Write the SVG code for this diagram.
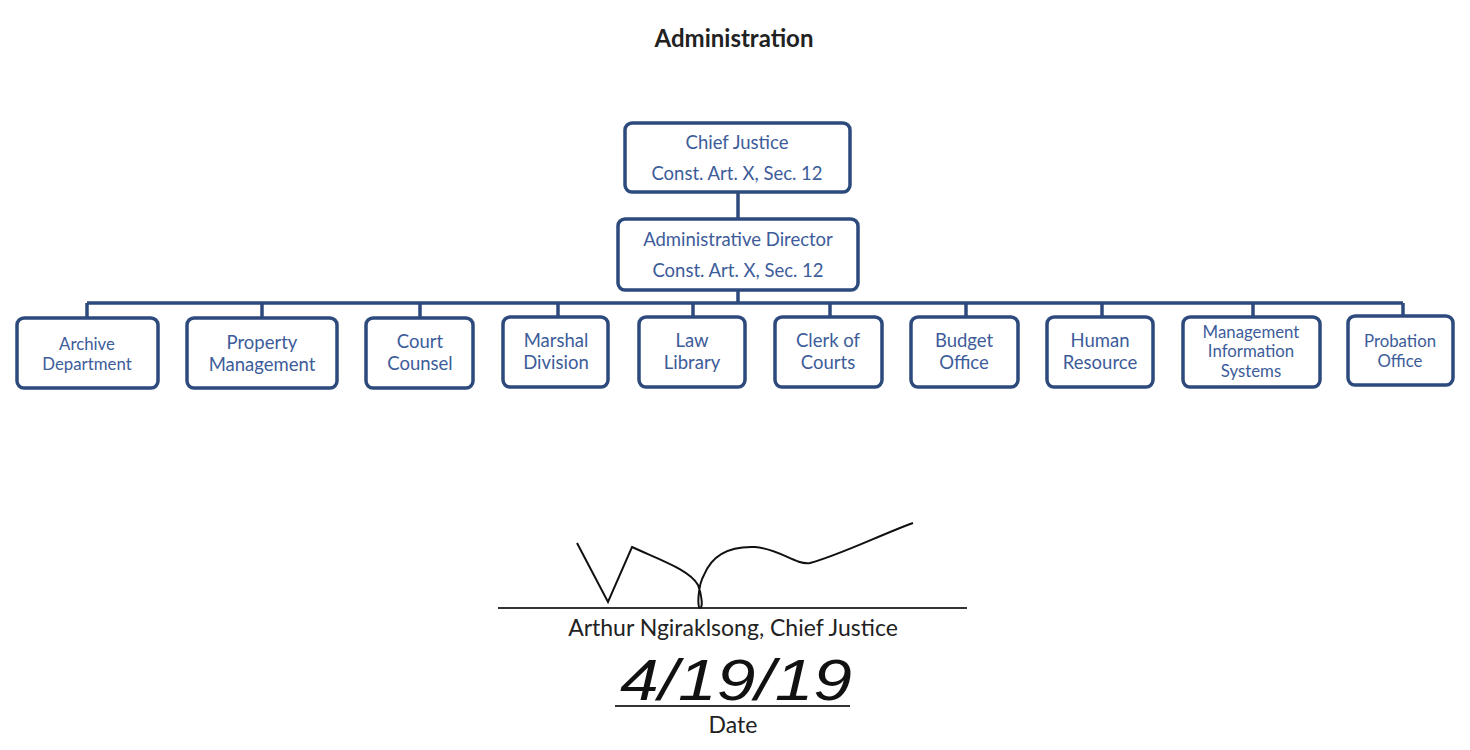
<svg xmlns="http://www.w3.org/2000/svg" width="1470" height="750" viewBox="0 0 1470 750">
<style>
.box{fill:#fff;stroke:#2c4a7c;stroke-width:3.5}
.lbl{font-family:Lato,"Open Sans",sans-serif;fill:#3d5c9a;text-anchor:middle;dominant-baseline:central}
.f16{font-size:18.5px}
.f14{font-size:16.8px}
.conn{stroke:#2c4a7c;stroke-width:3.5;fill:none}
.blk{font-family:Lato,"Open Sans",sans-serif;fill:#222;text-anchor:middle;dominant-baseline:central}
</style>
<rect width="1470" height="750" fill="#fff"/>
<text class="blk" x="734" y="37" font-size="24" font-weight="bold">Administration</text>
<g id="connectors">
<line class="conn" x1="738" y1="192" x2="738" y2="219"/>
<line class="conn" x1="738" y1="290" x2="738" y2="303"/>
<line class="conn" x1="87" y1="303" x2="1403" y2="303"/>
<line class="conn" x1="87" y1="303" x2="87" y2="318"/>
<line class="conn" x1="262" y1="303" x2="262" y2="318"/>
<line class="conn" x1="420" y1="303" x2="420" y2="318"/>
<line class="conn" x1="558" y1="303" x2="558" y2="317"/>
<line class="conn" x1="693" y1="303" x2="693" y2="317"/>
<line class="conn" x1="830" y1="303" x2="830" y2="317"/>
<line class="conn" x1="966" y1="303" x2="966" y2="317"/>
<line class="conn" x1="1102" y1="303" x2="1102" y2="317"/>
<line class="conn" x1="1253" y1="303" x2="1253" y2="317"/>
<line class="conn" x1="1403" y1="303" x2="1403" y2="316"/>
</g>
<g id="chief-justice">
<rect class="box" x="625" y="123" width="225" height="69" rx="7"/>
<text class="lbl f16" x="737" y="142">Chief Justice</text>
<text class="lbl f16" x="737" y="173">Const. Art. X, Sec. 12</text>
</g>
<g id="admin-director">
<rect class="box" x="618" y="219" width="240" height="71" rx="7"/>
<text class="lbl f16" x="738" y="239">Administrative Director</text>
<text class="lbl f16" x="738" y="270">Const. Art. X, Sec. 12</text>
</g>
<g id="archive">
<rect class="box" x="17" y="318" width="141" height="70" rx="7"/>
<text class="lbl f14" x="87" y="343">Archive</text>
<text class="lbl f14" x="87" y="363">Department</text>
</g>
<g id="property">
<rect class="box" x="187" y="318" width="150" height="70" rx="7"/>
<text class="lbl f16" x="262" y="342">Property</text>
<text class="lbl f16" x="262" y="364">Management</text>
</g>
<g id="court-counsel">
<rect class="box" x="366" y="318" width="107" height="70" rx="7"/>
<text class="lbl f16" x="420" y="341">Court</text>
<text class="lbl f16" x="420" y="363">Counsel</text>
</g>
<g id="marshal">
<rect class="box" x="503" y="317" width="105" height="70" rx="7"/>
<text class="lbl f16" x="556" y="340">Marshal</text>
<text class="lbl f16" x="556" y="362">Division</text>
</g>
<g id="law-library">
<rect class="box" x="639" y="317" width="106" height="70" rx="7"/>
<text class="lbl f16" x="692" y="340">Law</text>
<text class="lbl f16" x="692" y="362">Library</text>
</g>
<g id="clerk">
<rect class="box" x="775" y="317" width="107" height="70" rx="7"/>
<text class="lbl f16" x="828" y="340">Clerk of</text>
<text class="lbl f16" x="828" y="362">Courts</text>
</g>
<g id="budget">
<rect class="box" x="911" y="317" width="107" height="70" rx="7"/>
<text class="lbl f16" x="964" y="340">Budget</text>
<text class="lbl f16" x="964" y="362">Office</text>
</g>
<g id="human-resource">
<rect class="box" x="1047" y="317" width="106" height="70" rx="7"/>
<text class="lbl f16" x="1100" y="340">Human</text>
<text class="lbl f16" x="1100" y="362">Resource</text>
</g>
<g id="mis">
<rect class="box" x="1183" y="317" width="137" height="70" rx="7"/>
<text class="lbl f14" x="1251" y="331">Management</text>
<text class="lbl f14" x="1251" y="350">Information</text>
<text class="lbl f14" x="1251" y="370">Systems</text>
</g>
<g id="probation">
<rect class="box" x="1348" y="316" width="105" height="69" rx="7"/>
<text class="lbl f14" x="1400" y="340">Probation</text>
<text class="lbl f14" x="1400" y="360">Office</text>
</g>
<g id="signature">
<line x1="498" y1="608" x2="967" y2="608" stroke="#333" stroke-width="2"/>
<path d="M577,543 L608,602 L632,547 C660,560 690,570 698,585 C702,595 703,608 700,608 C697,608 698,585 704,575 C712,555 730,546 755,547 C780,549 795,565 810,563 C840,555 880,535 913,523" fill="none" stroke="#111" stroke-width="2"/>
<text class="blk" x="733" y="627" font-size="23">Arthur Ngiraklsong, Chief Justice</text>
<text x="620" y="700" font-family="'Liberation Sans',sans-serif" font-style="italic" font-size="58" fill="#111" textLength="232" lengthAdjust="spacingAndGlyphs">4/19/19</text>
<line x1="615" y1="706" x2="850" y2="706" stroke="#333" stroke-width="2"/>
<text class="blk" x="733" y="724" font-size="23">Date</text>
</g>
</svg>
